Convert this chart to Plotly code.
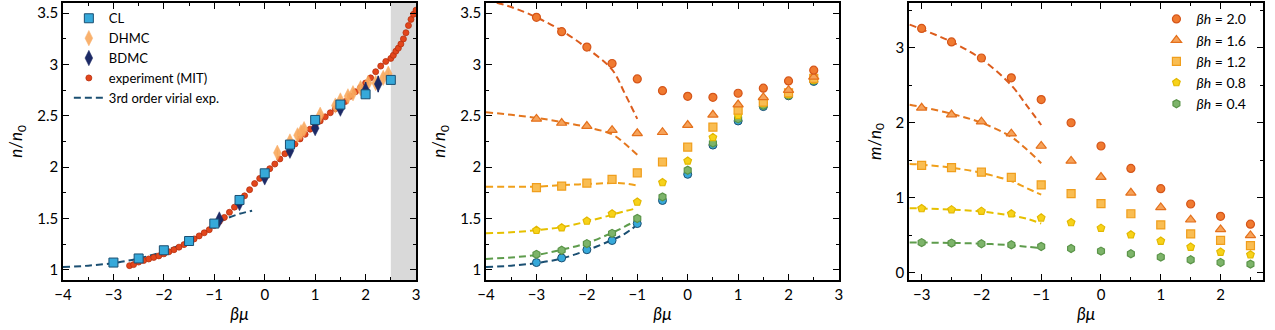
import plotly.graph_objects as go

# ---------------- Panel 1 data ----------------
cl_x = [-3, -2.5, -2, -1.5, -1, -0.5, 0, 0.5, 1, 1.5, 2, 2.5]
cl_y = [1.07, 1.11, 1.19, 1.28, 1.45, 1.68, 1.94, 2.22, 2.46, 2.61, 2.71, 2.85]
cl_err = [0.01, 0.01, 0.01, 0.01, 0.015, 0.015, 0.02, 0.02, 0.02, 0.02, 0.03, 0.03]

dhmc_x = [0.25, 0.5, 0.65, 0.72, 0.78, 1.1, 1.4, 1.5, 1.65, 1.75, 1.9, 2.05, 2.2, 2.35, 2.45]
dhmc_y = [2.14, 2.25, 2.31, 2.34, 2.37, 2.51, 2.60, 2.65, 2.69, 2.72, 2.77, 2.82, 2.82, 2.87, 2.91]
dhmc_err = [0.03, 0.03, 0.03, 0.03, 0.03, 0.03, 0.03, 0.03, 0.03, 0.03, 0.03, 0.03, 0.03, 0.03, 0.03]

bdmc_x = [-0.9, -0.5, 0, 0.5, 1.0, 1.5, 2.0, 2.25]
bdmc_y = [1.49, 1.65, 1.90, 2.16, 2.38, 2.57, 2.75, 2.81]
bdmc_err = [0.02, 0.02, 0.02, 0.02, 0.03, 0.03, 0.08, 0.08]

exp_x = [-2.68, -2.6, -2.5, -2.4, -2.3, -2.2, -2.1, -2.0, -1.9, -1.8, -1.7, -1.6, -1.5,
         -1.4, -1.3, -1.2, -1.1, -1.0, -0.9, -0.8, -0.7, -0.6, -0.5, -0.4, -0.3, -0.2,
         -0.1, 0.0, 0.1, 0.2, 0.3, 0.4, 0.5, 0.6, 0.7, 0.8, 0.9, 1.0, 1.1, 1.2, 1.3,
         1.4, 1.5, 1.6, 1.7, 1.8, 1.9, 2.0, 2.1, 2.2, 2.3, 2.4, 2.5, 2.55, 2.6, 2.65,
         2.7, 2.75, 2.8, 2.85, 2.9, 2.95, 3.0]
exp_y = [1.04, 1.05, 1.075, 1.09, 1.105, 1.12, 1.135, 1.155, 1.175, 1.195, 1.22, 1.245, 1.27,
         1.30, 1.33, 1.36, 1.39, 1.43, 1.47, 1.51, 1.56, 1.61, 1.66, 1.72, 1.78, 1.84,
         1.89, 1.94, 1.985, 2.03, 2.08, 2.13, 2.18, 2.225, 2.275, 2.32, 2.37, 2.41, 2.45, 2.49, 2.53,
         2.57, 2.60, 2.64, 2.69, 2.735, 2.775, 2.82, 2.87, 2.93, 2.985, 3.03, 3.06, 3.09, 3.13, 3.16,
         3.20, 3.25, 3.31, 3.38, 3.44, 3.49, 3.53]

virial_x = [-4, -3.5, -3, -2.5, -2, -1.5, -1, -0.75, -0.5, -0.25]
virial_y = [1.026, 1.04, 1.065, 1.11, 1.18, 1.28, 1.43, 1.50, 1.545, 1.575]

shaded_region = [2.5, 3.0]

# ---------------- Panel 2 & 3 data ----------------
mu = [-3, -2.5, -2, -1.5, -1, -0.5, 0, 0.5, 1, 1.5, 2, 2.5]
h_labels = ["2.0", "1.6", "1.2", "0.8", "0.4"]

n_h20 = [3.46, 3.32, 3.17, 3.01, 2.86, 2.745, 2.69, 2.68, 2.72, 2.77, 2.84, 2.945]
n_h16 = [2.47, 2.43, 2.40, 2.36, 2.33, 2.34, 2.41, 2.51, 2.61, 2.68, 2.75, 2.88]
n_h12 = [1.80, 1.815, 1.845, 1.88, 1.945, 2.05, 2.195, 2.39, 2.555, 2.635, 2.725, 2.865]
n_h08 = [1.385, 1.41, 1.475, 1.545, 1.66, 1.85, 2.06, 2.29, 2.505, 2.62, 2.71, 2.85]
n_h04 = [1.15, 1.19, 1.255, 1.355, 1.50, 1.71, 1.97, 2.235, 2.47, 2.60, 2.70, 2.845]
n_h00 = [1.07, 1.115, 1.195, 1.285, 1.45, 1.675, 1.93, 2.215, 2.45, 2.59, 2.695, 2.835]

vx2 = [-4, -3.5, -3, -2.5, -2, -1.5, -1.25, -1]
nv_h20 = [3.63, 3.56, 3.46, 3.33, 3.16, 2.95, 2.72, 2.47]
nv_h16 = [2.535, 2.51, 2.48, 2.44, 2.39, 2.32, 2.23, 2.12]
nv_h12 = [1.81, 1.81, 1.81, 1.825, 1.835, 1.845, 1.84, 1.82]
nv_h08 = [1.355, 1.365, 1.385, 1.415, 1.47, 1.535, 1.57, 1.60]
nv_h04 = [1.105, 1.12, 1.145, 1.195, 1.26, 1.36, 1.42, 1.485]
nv_h00 = [1.026, 1.04, 1.065, 1.11, 1.19, 1.29, 1.35, 1.438]

m_h20 = [3.26, 3.08, 2.865, 2.60, 2.31, 2.0, 1.69, 1.39, 1.12, 0.915, 0.75, 0.645]
m_h16 = [2.20, 2.11, 2.015, 1.855, 1.69, 1.49, 1.275, 1.065, 0.87, 0.705, 0.575, 0.495]
m_h12 = [1.43, 1.40, 1.34, 1.27, 1.17, 1.055, 0.92, 0.785, 0.635, 0.515, 0.43, 0.36]
m_h08 = [0.855, 0.84, 0.82, 0.785, 0.73, 0.668, 0.593, 0.504, 0.42, 0.34, 0.273, 0.237]
m_h04 = [0.40, 0.393, 0.384, 0.37, 0.348, 0.321, 0.286, 0.25, 0.206, 0.17, 0.134, 0.112]

vx3 = [-3.2, -3, -2.5, -2, -1.5, -1.25, -1]
mv_h20 = [3.31, 3.25, 3.08, 2.85, 2.50, 2.24, 1.97]
mv_h16 = [2.24, 2.21, 2.12, 2.0, 1.81, 1.65, 1.46]
mv_h12 = [1.45, 1.44, 1.40, 1.33, 1.22, 1.13, 1.04]
mv_h08 = [0.86, 0.855, 0.84, 0.815, 0.76, 0.72, 0.655]
mv_h04 = [0.40, 0.40, 0.395, 0.385, 0.365, 0.345, 0.325]

# ---------------- styles ----------------
FONT = "Lato"
c_blue_fill, c_blue_edge = "#36a9da", "#1b4f72"
c_navy = "#1c2a66"
c_dhmc = "#f9a95e"
c_exp_fill, c_exp_edge = "#e2461c", "#b8300e"
c_virial = "#1b4f72"

styles = {
    "2.0": dict(fill="#f07a30", edge="#d5561a", line="#dc5c1c", symbol="circle", size=9),
    "1.6": dict(fill="#f6a35a", edge="#e4701c", line="#e4761e", symbol="triangle-up", size=10),
    "1.2": dict(fill="#f9bd52", edge="#f09e1c", line="#f0a01a", symbol="square", size=9),
    "0.8": dict(fill="#f7d21a", edge="#e3b800", line="#e6c000", symbol="pentagon", size=9),
    "0.4": dict(fill="#7db46a", edge="#5a9448", line="#5e9c4c", symbol="hexagon", size=9),
}
DASH = "7px,4px"

fig = go.Figure()

# ---- Panel 1 ----
fig.add_trace(go.Scatter(x=virial_x, y=virial_y, mode="lines", line=dict(color=c_virial, width=2, dash=DASH, shape="spline"),
                         name="3rd order virial exp.", xaxis="x", yaxis="y", legend="legend", legendrank=5))
fig.add_trace(go.Scatter(x=exp_x, y=exp_y, mode="markers",
                         marker=dict(color=c_exp_fill, size=6, line=dict(color=c_exp_edge, width=0.8)),
                         name="experiment (MIT)", xaxis="x", yaxis="y", legend="legend", legendrank=4))
fig.add_trace(go.Scatter(x=dhmc_x, y=dhmc_y, mode="markers",
                         error_y=dict(type="data", array=dhmc_err, color=c_dhmc, thickness=1.2, width=0),
                         marker=dict(symbol="diamond-tall", color=c_dhmc, size=11, opacity=0.9, line=dict(color=c_dhmc, width=0.5)),
                         name="DHMC", xaxis="x", yaxis="y", legend="legend", legendrank=2))
fig.add_trace(go.Scatter(x=bdmc_x, y=bdmc_y, mode="markers",
                         error_y=dict(type="data", array=bdmc_err, color=c_navy, thickness=1.5, width=0),
                         marker=dict(symbol="diamond-tall", color=c_navy, size=11, line=dict(color=c_navy, width=0.5)),
                         name="BDMC", xaxis="x", yaxis="y", legend="legend", legendrank=3))
fig.add_trace(go.Scatter(x=cl_x, y=cl_y, mode="markers",
                         error_y=dict(type="data", array=cl_err, color=c_blue_edge, thickness=1.2, width=0),
                         marker=dict(symbol="square", color=c_blue_fill, size=9, line=dict(color=c_blue_edge, width=1)),
                         name="CL", xaxis="x", yaxis="y", legend="legend", legendrank=1))

# ---- Panel 2 ----
n_series = {"2.0": (n_h20, nv_h20), "1.6": (n_h16, nv_h16), "1.2": (n_h12, nv_h12),
            "0.8": (n_h08, nv_h08), "0.4": (n_h04, nv_h04)}
fig.add_trace(go.Scatter(x=vx2, y=nv_h00, mode="lines", line=dict(color=c_virial, width=2, dash=DASH, shape="spline"),
                         showlegend=False, xaxis="x2", yaxis="y2"))
for h in h_labels:
    s = styles[h]
    fig.add_trace(go.Scatter(x=vx2, y=n_series[h][1], mode="lines",
                             line=dict(color=s["line"], width=2, dash=DASH, shape="spline"),
                             showlegend=False, xaxis="x2", yaxis="y2"))
fig.add_trace(go.Scatter(x=mu, y=n_h00, mode="markers",
                         marker=dict(symbol="circle", color=c_blue_fill, size=8, line=dict(color=c_blue_edge, width=1)),
                         showlegend=False, xaxis="x2", yaxis="y2"))
for h in reversed(h_labels):
    s = styles[h]
    fig.add_trace(go.Scatter(x=mu, y=n_series[h][0], mode="markers",
                             marker=dict(symbol=s["symbol"], color=s["fill"], size=s["size"] - 1,
                                         line=dict(color=s["edge"], width=1.2)),
                             showlegend=False, xaxis="x2", yaxis="y2"))

# ---- Panel 3 ----
m_series = {"2.0": (m_h20, mv_h20), "1.6": (m_h16, mv_h16), "1.2": (m_h12, mv_h12),
            "0.8": (m_h08, mv_h08), "0.4": (m_h04, mv_h04)}
for h in h_labels:
    s = styles[h]
    fig.add_trace(go.Scatter(x=vx3, y=m_series[h][1], mode="lines",
                             line=dict(color=s["line"], width=2, dash=DASH, shape="spline"),
                             showlegend=False, xaxis="x3", yaxis="y3"))
for i, h in enumerate(h_labels):
    s = styles[h]
    fig.add_trace(go.Scatter(x=mu, y=m_series[h][0], mode="markers",
                             marker=dict(symbol=s["symbol"], color=s["fill"], size=s["size"] - 1,
                                         line=dict(color=s["edge"], width=1.2)),
                             name=f"<i>βh</i> = {h}", xaxis="x3", yaxis="y3", legend="legend2",
                             legendrank=i + 1))

# ---- shaded region ----
fig.add_shape(type="rect", xref="x", yref="y domain", x0=shaded_region[0], x1=shaded_region[1],
              y0=0, y1=1, fillcolor="#d9d9d9", line=dict(width=0), layer="below")

axis_common = dict(showline=True, linecolor="black", linewidth=1.5, mirror="allticks",
                   ticks="inside", ticklen=6, tickwidth=1.3, tickcolor="black",
                   showgrid=False, zeroline=False, automargin=False,
                   tickfont=dict(family=FONT, size=15, color="black"),
                   title_font=dict(family=FONT, size=17, color="black"))

def xax(domain, rng, anchor, dtick=1):
    return dict(domain=domain, range=rng, anchor=anchor, dtick=dtick, tick0=0,
                minor=dict(ticks="inside", ticklen=3, dtick=0.5, tickcolor="black", tickwidth=1.2),
                title=dict(text="<i>βμ</i>", standoff=6), **axis_common)

def yax(domain, rng, anchor, dtick, mdtick, title):
    return dict(domain=domain, range=rng, anchor=anchor, dtick=dtick, tick0=0,
                minor=dict(ticks="inside", ticklen=3, dtick=mdtick, tickcolor="black", tickwidth=1.2),
                title=dict(text=title, standoff=10), **axis_common)

ydom = [0.1515, 0.991]
fig.update_layout(
    width=1275, height=330, margin=dict(l=0, r=0, t=0, b=0),
    paper_bgcolor="white", plot_bgcolor="white",
    font=dict(family=FONT, size=14, color="black"),
    xaxis=xax([0.0494, 0.3263], [-4, 3], "y"),
    yaxis=yax(ydom, [0.9, 3.6], "x", 0.5, 0.25, "<i>n</i>/<i>n</i><sub>0</sub>"),
    xaxis2=xax([0.3812, 0.658], [-4, 3], "y2"),
    yaxis2=yax(ydom, [0.9, 3.6], "x2", 0.5, 0.25, "<i>n</i>/<i>n</i><sub>0</sub>"),
    xaxis3=xax([0.713, 0.9906], [-3.21, 2.71], "y3"),
    yaxis3=yax(ydom, [-0.1, 3.6], "x3", 1, 0.5, "<i>m</i>/<i>n</i><sub>0</sub>"),
    legend=dict(x=0.054, y=0.99, xanchor="left", yanchor="top", bgcolor="rgba(0,0,0,0)",
                font=dict(family=FONT, size=13), itemwidth=30, tracegroupgap=0),
    legend2=dict(x=0.907, y=0.99, xanchor="left", yanchor="top", bgcolor="rgba(0,0,0,0)",
                 font=dict(family=FONT, size=14), itemwidth=30, tracegroupgap=0),
)

fig.write_html("out.html")
